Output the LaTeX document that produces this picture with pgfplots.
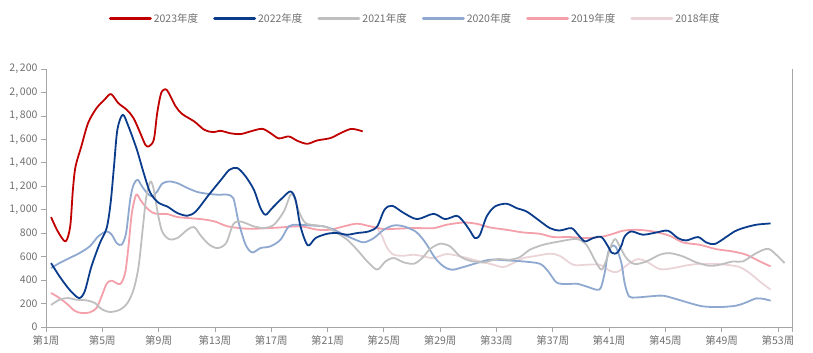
\documentclass[border=0pt]{standalone}
\usepackage{fontspec}
\setmainfont{Noto Sans CJK SC}
\usepackage{pgfplots}
\pgfplotsset{compat=1.18}
\definecolor{c23}{HTML}{C00000}
\definecolor{c22}{HTML}{0B3C8C}
\definecolor{c21}{HTML}{BFBFBF}
\definecolor{c20}{HTML}{8EA8D0}
\definecolor{c19}{HTML}{F4A0AA}
\definecolor{c18}{HTML}{EBD4D7}
\definecolor{axisgray}{HTML}{A6A6A6}
\definecolor{labelgray}{HTML}{707070}
\begin{document}
\begin{tikzpicture}
\begin{axis}[name=ax, scale only axis, width=746pt, height=258pt,
  xmin=1, xmax=54, ymin=0, ymax=2200,
  axis x line*=bottom, axis y line*=left,
  axis line style={axisgray, line width=0.8pt},
  tick style={axisgray, line width=0.8pt},
  tick align=outside, major tick length=5pt,
  xtick={1,5,...,53},
  xticklabels={第1周,第5周,第9周,第13周,第17周,第21周,第25周,第29周,第33周,第37周,第41周,第45周,第49周,第53周},
  ytick={0,200,...,2200},
  ticklabel style={font=\fontsize{10.5}{12}\selectfont, text=labelgray},
  /pgf/number format/assume math mode=true,
  /pgf/number format/1000 sep={,\,},
  every axis plot/.append style={smooth, tension=0.5, line width=1.8pt, line join=round},
  reverse legend,
  legend columns=6,
  legend style={at={(0.495,1.195)}, anchor=center, draw=none, fill=none,
    font=\fontsize{10.5}{12}\selectfont, text=labelgray,
    /tikz/every even column/.append style={column sep=13pt}},
  legend image code/.code={\draw[#1, line width=3pt, line cap=round] (0pt,0pt) -- (40pt,0pt);},
]
\addplot[c18] coordinates {(24.53,844) (24.88,773) (25.24,673) (25.71,616) (26.42,608) (27.13,616) (27.84,602) (28.53,587) (29.47,622) (30.65,596) (31.83,559) (32.78,531) (33.49,511) (34.2,545) (34.9,587) (35.85,607) (36.8,625) (37.5,607) (38.45,531) (39.39,531) (40.34,531) (41.05,480) (41.6,470) (42.47,545) (43.06,579) (43.65,559) (44.6,494) (45.54,502) (46.49,525) (47.44,539) (48.38,539) (49.33,531) (50.28,511) (50.99,460) (51.7,389) (52.48,318)};
\addlegendentry{2018年度}
\addplot[c19] coordinates {(1.36,290) (1.96,247) (2.56,190) (3.03,139) (3.51,119) (4.11,125) (4.59,162) (4.95,261) (5.31,369) (5.67,395) (6.26,366) (6.62,460) (6.86,688) (7.1,972) (7.41,1128) (7.7,1085) (8.06,1028) (8.54,977) (9.02,963) (9.61,963) (10.33,938) (11.05,929) (12.0,920) (12.96,901) (13.92,858) (15.3,838) (16.48,841) (17.66,849) (19.08,858) (20.27,830) (21.21,830) (22.16,858) (23.1,881) (24.05,858) (25.0,835) (25.95,838) (27.13,844) (28.53,843) (29.47,872) (30.65,891) (31.6,880) (32.54,849) (33.72,829) (34.9,806) (36.09,795) (37.03,767) (38.21,767) (39.39,758) (40.57,772) (41.3,795) (42.0,821) (42.94,829) (44.12,815) (45.31,778) (46.25,721) (47.44,701) (48.62,664) (49.8,644) (50.75,616) (51.7,560) (52.48,517)};
\addlegendentry{2019年度}
\addplot[c20] coordinates {(1.36,503) (1.96,545) (2.67,588) (3.39,631) (4.11,688) (4.71,773) (5.31,815) (5.67,787) (6.02,716) (6.38,702) (6.69,801) (6.98,1085) (7.22,1213) (7.51,1256) (7.82,1199) (8.18,1142) (8.54,1114) (8.9,1156) (9.25,1222) (9.73,1241) (10.33,1227) (11.05,1185) (11.77,1151) (12.48,1136) (13.2,1128) (13.92,1128) (14.3,1100) (14.5,1000) (14.7,886) (15.18,702) (15.65,636) (16.24,673) (16.95,688) (17.66,744) (18.25,858) (18.85,872) (19.79,866) (20.74,858) (21.45,830) (22.16,787) (22.87,750) (23.58,722) (24.3,759) (25.0,830) (25.71,866) (26.42,858) (27.25,815) (27.7,760) (28.06,701) (28.65,587) (29.24,517) (29.83,488) (30.65,511) (31.6,545) (32.54,574) (33.72,568) (34.9,559) (36.09,539) (36.68,474) (37.27,380) (37.98,366) (38.69,369) (39.39,346) (40.1,318) (40.41,332) (40.69,460) (40.93,630) (41.2,690) (41.5,680) (41.88,545) (42.11,375) (42.42,261) (42.94,252) (43.89,261) (44.83,267) (45.78,238) (46.73,204) (47.67,176) (48.86,170) (50.04,182) (50.75,210) (51.46,244) (52.05,238) (52.48,224)};
\addlegendentry{2020年度}
\addplot[c21] coordinates {(1.36,188) (1.96,233) (2.56,247) (3.15,233) (3.87,227) (4.47,205) (4.95,153) (5.55,128) (6.26,148) (6.79,205) (7.22,318) (7.58,517) (7.89,858) (8.13,1114) (8.42,1241) (8.66,1170) (8.94,972) (9.25,815) (9.73,750) (10.33,758) (11.05,830) (11.53,852) (12.0,778) (12.6,702) (13.2,673) (13.8,716) (14.28,872) (14.7,901) (15.18,886) (15.77,858) (16.48,844) (17.19,872) (17.9,986) (18.37,1128) (18.61,1114) (18.96,986) (19.44,886) (20.27,866) (20.98,849) (21.69,801) (22.4,744) (23.1,659) (23.82,560) (24.53,489) (25.12,560) (25.71,588) (26.42,551) (27.14,540) (27.73,588) (28.29,665) (29.0,710) (29.71,687) (30.42,602) (31.13,565) (32.07,551) (33.02,579) (33.96,574) (34.67,596) (35.38,659) (36.32,701) (37.5,730) (38.69,750) (39.39,701) (39.98,573) (40.46,488) (40.81,573) (41.17,701) (41.45,750) (41.76,687) (42.23,588) (42.82,537) (43.65,559) (44.6,616) (45.31,630) (46.25,602) (47.2,551) (48.15,522) (48.86,531) (49.8,559) (50.51,559) (51.46,630) (52.29,667) (52.88,616) (53.47,545)};
\addlegendentry{2021年度}
\addplot[c22] coordinates {(1.36,545) (1.96,432) (2.67,318) (3.34,247) (3.75,304) (4.23,517) (4.83,716) (5.31,844) (5.59,1057) (5.83,1369) (6.07,1682) (6.45,1810) (6.86,1710) (7.46,1511) (7.94,1313) (8.42,1142) (9.02,1057) (9.61,1028) (10.33,972) (11.05,949) (11.65,986) (12.48,1114) (13.44,1256) (14.04,1341) (14.6,1355) (15.18,1284) (15.77,1170) (16.24,1014) (16.6,957) (17.07,1014) (17.78,1099) (18.37,1156) (18.73,1085) (19.08,858) (19.6,696) (20.15,759) (20.98,795) (21.69,801) (22.4,787) (23.1,801) (23.93,815) (24.53,858) (25.05,1000) (25.59,1034) (26.42,972) (27.37,920) (28.53,965) (29.35,920) (30.18,948) (30.65,900) (31.08,829) (31.48,758) (31.83,787) (32.31,943) (32.9,1028) (33.72,1051) (34.43,1014) (35.14,985) (35.97,914) (36.8,843) (37.5,823) (38.33,843) (38.8,787) (39.28,730) (39.87,758) (40.46,767) (40.93,687) (41.17,635) (41.4,625) (41.64,640) (41.9,700) (42.11,772) (42.59,815) (43.41,787) (44.36,806) (45.19,821) (45.9,758) (46.49,738) (47.32,767) (47.91,721) (48.5,707) (49.21,758) (49.92,815) (50.51,843) (51.46,872) (52.48,883)};
\addlegendentry{2022年度}
\addplot[c23] coordinates {(1.36,937) (1.84,815) (2.39,730) (2.72,858) (2.91,1170) (3.1,1369) (3.51,1540) (3.99,1739) (4.59,1866) (5.19,1943) (5.62,1986) (6.14,1909) (6.74,1852) (7.22,1781) (7.7,1653) (8.06,1554) (8.3,1540) (8.66,1597) (8.9,1824) (9.18,1994) (9.49,2028) (9.73,1994) (10.21,1881) (10.69,1815) (11.53,1753) (12.24,1682) (12.84,1662) (13.44,1673) (14.04,1653) (14.82,1645) (15.53,1668) (16.36,1690) (16.95,1653) (17.54,1608) (18.25,1625) (18.85,1588) (19.56,1562) (20.27,1591) (21.21,1611) (21.92,1653) (22.63,1688) (23.1,1682) (23.5,1668)};
\addlegendentry{2023年度}
\end{axis}
\draw[axisgray, line width=0.8pt] ([yshift=-5pt]ax.south east) -- (ax.north east);
\pgfresetboundingbox
\path ([shift={(-46pt,-26pt)}]ax.south west) rectangle ([shift={(21pt,69pt)}]ax.north east);
\end{tikzpicture}
\end{document}
